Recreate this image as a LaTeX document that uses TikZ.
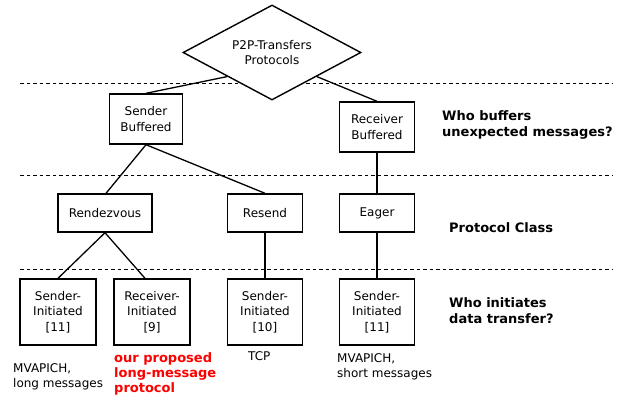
\documentclass[tikz,border=0pt]{standalone}
\usepackage{fontspec}
\setmainfont{DejaVu Sans}
\usetikzlibrary{shapes.geometric,calc}
\begin{document}
\begin{tikzpicture}[x=1pt,y=-1pt,
  every node/.style={font=\fontsize{12}{15.5}\selectfont},
  box/.style={draw, line width=1.4pt, align=center, inner sep=0pt},
  conn/.style={line width=1.3pt},
  sep/.style={line width=0.8pt, dash pattern=on 3.5pt off 3pt},
  lab/.style={anchor=north west, align=left, inner sep=0pt},
  qlab/.style={lab, font=\fontsize{13}{16.7}\selectfont\bfseries},
  redlab/.style={lab, text=red, font=\fontsize{13}{15}\selectfont\bfseries}]
\useasboundingbox (0,0) rectangle (621,394);
\fill[white] (0,0) rectangle (621,394);
% separators
\coordinate (s1a) at (20,83); \coordinate (s1b) at (613,83);
\coordinate (s2a) at (20,175); \coordinate (s2b) at (613,175);
\coordinate (s3a) at (20,269); \coordinate (s3b) at (613,269);
\draw[sep] (s1a) -- (s1b);
\draw[sep] (s2a) -- (s2b);
\draw[sep] (s3a) -- (s3b);
% nodes
\node[box, shape=diamond, aspect=1.87, minimum width=178pt, minimum height=95pt, fill=white] (d) at (272,52.5) {P2P-Transfers\\Protocols};
\node[box, minimum width=73pt, minimum height=50pt] (sb) at (146,119) {Sender\\Buffered};
\node[box, minimum width=75pt, minimum height=50pt] (rb) at (377,127) {Receiver\\Buffered};
\node[box, minimum width=94pt, minimum height=38pt] (rv) at (105,213) {Rendezvous};
\node[box, minimum width=75pt, minimum height=38pt] (rs) at (265,213) {Resend};
\node[box, minimum width=75pt, minimum height=38pt] (eg) at (377,213) {Eager};
\node[box, minimum width=76pt, minimum height=66pt] (si1) at (58,312) {Sender-\\Initiated\\{[11]}};
\node[box, minimum width=76pt, minimum height=66pt] (ri) at (152,312) {Receiver-\\Initiated\\{[9]}};
\node[box, minimum width=75pt, minimum height=66pt] (si2) at (265,312) {Sender-\\Initiated\\{[10]}};
\node[box, minimum width=75pt, minimum height=66pt] (si3) at (377,312) {Sender-\\Initiated\\{[11]}};
% connectors
\draw[conn] ($(d.west)!0.5!(d.south)$) -- (sb.north);
\draw[conn] ($(d.east)!0.5!(d.south)$) -- (rb.north);
\draw[conn] (sb.south) -- ([xshift=1pt]rv.north);
\draw[conn] (sb.south) -- (rs.north);
\draw[conn] (rb.south) -- (eg.north);
\draw[conn] (rv.south) -- (si1.north);
\draw[conn] (rv.south) -- ([xshift=-7pt]ri.north);
\draw[conn] (rs.south) -- (si2.north);
\draw[conn] (eg.south) -- (si3.north);
% labels
\node[qlab] (q1) at (442,110) {Who buffers\\unexpected messages?};
\node[qlab] (q2) at (449,222) {Protocol Class};
\node[qlab] (q3) at (449,297) {Who initiates\\data transfer?};
\node[lab] (l1) at (13,363) {MVAPICH,\\long messages};
\node[redlab] (l2) at (114,352) {our proposed\\long-message\\protocol};
\node[lab] (l3) at (248,351) {TCP};
\node[lab] (l4) at (337,353) {MVAPICH,\\short messages};
\end{tikzpicture}
\end{document}
